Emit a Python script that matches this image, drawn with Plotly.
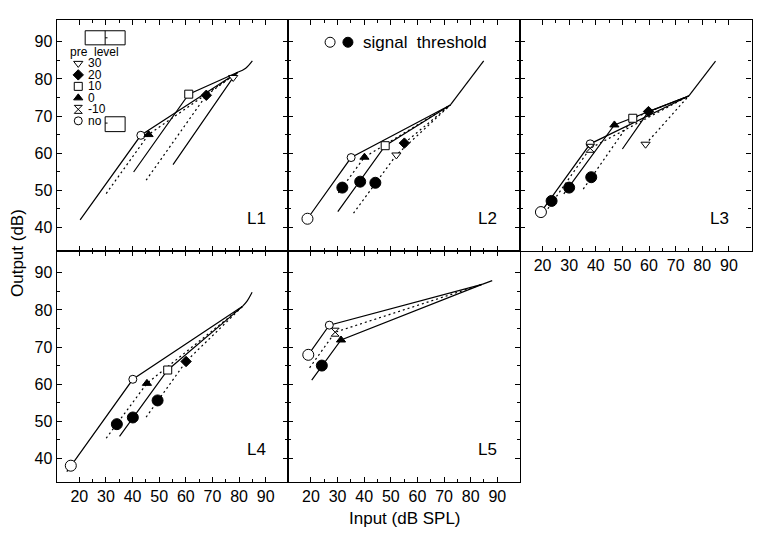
import plotly.graph_objects as go

# ---------------- data ----------------
x_ticks = [20, 30, 40, 50, 60, 70, 80, 90]
y_ticks = [40, 50, 60, 70, 80, 90]
x_minor = [25, 35, 45, 55, 65, 75, 85]
y_minor = [45, 55, 65, 75, 85]
pre_levels = ["30", "20", "10", "0", "-10", "no"]
panel_names = ["L1", "L2", "L3", "L4", "L5"]

# each precursor line: start of lower branch (x0,y0), knee (xk,yk), then to the common end
L1_level = ["no", "0", "10", "20", "30"]
L1_x0 = [20.3, 30.1, 40.4, 45.1, 55.2]
L1_y0 = [42.0, 49.1, 54.9, 52.7, 56.9]
L1_xk = [43.1, 46.0, 61.1, 67.7, 77.8]
L1_yk = [64.8, 65.0, 75.9, 75.6, 80.4]
L1_end_x = [79.5, 82.5, 85.0]
L1_end_y = [81.8, 82.9, 84.85]
L1_thr_x = []
L1_thr_y = []

L2_level = ["no", "0", "10", "30", "20"]
L2_x0 = [18.7, 30.3, 30.1, 36.0, None]
L2_y0 = [42.3, 49.3, 44.2, 43.8, None]
L2_xk = [35.1, 40.1, 47.9, 52.1, 55.1]
L2_yk = [58.8, 58.9, 62.0, 59.5, 62.7]
L2_end_x = [72.4, 84.9]
L2_end_y = [73.0, 84.9]
L2_thr_x = [18.7, 31.8, 38.5, 44.2]
L2_thr_y = [42.3, 50.7, 52.3, 52.0]

L3_level = ["no", "-10", "0", "10", "20", "30"]
L3_x0 = [19.4, 22.0, 28.0, 35.3, 50.0, None]
L3_y0 = [44.1, 45.0, 49.0, 50.3, 61.1, None]
L3_xk = [37.9, 37.9, 47.0, 53.9, 59.8, 58.7]
L3_yk = [62.5, 61.3, 67.6, 69.4, 71.2, 62.4]
L3_end_x = [74.9, 85.0]
L3_end_y = [75.4, 84.8]
L3_thr_x = [19.4, 23.4, 30.0, 38.3]
L3_thr_y = [44.1, 47.1, 50.7, 53.5]

L4_level = ["no", "0", "10", "20"]
L4_x0 = [15.3, 30.1, 35.1, 45.1]
L4_y0 = [36.4, 45.4, 45.9, 51.1]
L4_xk = [40.1, 45.4, 53.2, 60.1]
L4_yk = [61.3, 60.2, 63.8, 66.1]
L4_end_x = [81.2, 83.0, 84.9]
L4_end_y = [80.9, 82.4, 84.8]
L4_thr_x = [16.8, 34.1, 40.1, 49.4]
L4_thr_y = [38.0, 49.2, 51.0, 55.6]

L5_level = ["no", "-10", "0"]
L5_x0 = [19.0, 19.5, 20.3]
L5_y0 = [67.9, 64.4, 61.1]
L5_xk = [26.9, 29.1, 31.3]
L5_yk = [75.9, 74.0, 71.9]
L5_end_x = [84.3, 88.1]
L5_end_y = [86.9, 87.9]
L5_thr_x = [19.0, 24.1]
L5_thr_y = [67.9, 65.0]

# ---------------- styles ----------------
L1_dash = ["solid", "dot", "solid", "dot", "solid"]
L2_dash = ["solid", "dot", "solid", "dot", "dot"]
L3_dash = ["solid", "dot", "solid", "dot", "solid", "dot"]
L4_dash = ["solid", "dot", "solid", "dot"]
L5_dash = ["solid", "dot", "solid"]

sym = {"30": "triangle-down", "20": "diamond", "10": "square",
       "0": "triangle-up", "-10": "hourglass", "no": "circle"}
fill = {"30": "white", "20": "black", "10": "white",
        "0": "black", "-10": "white", "no": "white"}
DOT = "2px,3px"
FONT = "Arial"

panels = [
    (L1_level, L1_x0, L1_y0, L1_xk, L1_yk, L1_end_x, L1_end_y, L1_thr_x, L1_thr_y, L1_dash),
    (L2_level, L2_x0, L2_y0, L2_xk, L2_yk, L2_end_x, L2_end_y, L2_thr_x, L2_thr_y, L2_dash),
    (L3_level, L3_x0, L3_y0, L3_xk, L3_yk, L3_end_x, L3_end_y, L3_thr_x, L3_thr_y, L3_dash),
    (L4_level, L4_x0, L4_y0, L4_xk, L4_yk, L4_end_x, L4_end_y, L4_thr_x, L4_thr_y, L4_dash),
    (L5_level, L5_x0, L5_y0, L5_xk, L5_yk, L5_end_x, L5_end_y, L5_thr_x, L5_thr_y, L5_dash),
]

# page pixels -> paper coords (the html body adds an 8px margin)
OFF = 8
W, H = 764 - 2 * OFF, 537 - 2 * OFF
def px(v):
    return (v - OFF) / W
def py(v):
    return 1 - (v - OFF) / H

col_left = [56.7, 288.3, 519.9]
row_top = [20, 251]
pw, ph = 231.6, 231
pos = [(0, 0), (0, 1), (0, 2), (1, 0), (1, 1)]
XR = [11.5, 98.5]
YR = [33.6, 95.9]

fig = go.Figure()
layout = dict(width=W, height=H, margin=dict(l=0, r=0, t=0, b=0),
              plot_bgcolor="white", paper_bgcolor="white", showlegend=False,
              font=dict(family=FONT, color="black"))
annotations = []
shapes = []

for i, (lvl, x0, y0, xk, yk, ex, ey, tx, ty, dash) in enumerate(panels):
    r, c = pos[i]
    sfx = "" if i == 0 else str(i + 1)
    xa, ya = "x" + sfx, "y" + sfx
    for j in range(len(lvl)):
        xs = ([x0[j]] if x0[j] is not None else []) + [xk[j], ex[0]]
        ys = ([y0[j]] if y0[j] is not None else []) + [yk[j], ey[0]]
        fig.add_trace(go.Scatter(x=xs, y=ys, mode="lines", xaxis=xa, yaxis=ya,
                                 line=dict(color="black", width=1.2,
                                           dash=DOT if dash[j] == "dot" else "solid")))
    fig.add_trace(go.Scatter(x=ex, y=ey, mode="lines", xaxis=xa, yaxis=ya,
                             line=dict(color="black", width=1.2, shape="spline")))
    fig.add_trace(go.Scatter(x=xk, y=yk, mode="markers", xaxis=xa, yaxis=ya,
                             marker=dict(symbol=[sym[l] for l in lvl],
                                         color=[fill[l] for l in lvl], size=8, opacity=1,
                                         line=dict(color="black", width=1))))
    if tx:
        fig.add_trace(go.Scatter(x=tx, y=ty, mode="markers", xaxis=xa, yaxis=ya,
                                 marker=dict(symbol="circle", size=11, opacity=1,
                                             color=["white"] + ["black"] * (len(tx) - 1),
                                             line=dict(color="black", width=1))))

    xdom = [px(col_left[c]), px(col_left[c] + pw)]
    ydom = [py(row_top[r] + ph), py(row_top[r])]
    show_x = (r == 1) or (c == 2)
    show_y = (c == 0)
    common = dict(ticks="inside", ticklen=5, tickwidth=1, tickcolor="black",
                  showline=True, linecolor="black", linewidth=1.2, mirror="ticks",
                  showgrid=False, zeroline=False, tickfont=dict(size=16, family=FONT))
    layout["xaxis" + sfx] = dict(
        domain=xdom, range=XR, anchor=ya, tickmode="array", tickvals=x_ticks,
        showticklabels=show_x,
        minor=dict(tickmode="array", tickvals=x_minor, ticks="inside", ticklen=3,
                   tickcolor="black", showgrid=False), **common)
    layout["yaxis" + sfx] = dict(
        domain=ydom, range=YR, anchor=xa, tickmode="array", tickvals=y_ticks,
        showticklabels=show_y,
        minor=dict(tickmode="array", tickvals=y_minor, ticks="inside", ticklen=3,
                   tickcolor="black", showgrid=False), **common)
    annotations.append(dict(x=90.7, y=39.3, xref=xa, yref=ya, text=panel_names[i],
                            showarrow=False, xanchor="right", yanchor="bottom",
                            font=dict(size=17, family=FONT)))

# ---- pre-level key inside L1 ----
key_x, key_tx, key_top, key_step = 19.6, 22.6, 84.2, 3.1
key_y = [key_top - k * key_step for k in range(len(pre_levels))]
fig.add_trace(go.Scatter(x=[key_x] * len(pre_levels), y=key_y, mode="markers",
                         xaxis="x", yaxis="y",
                         marker=dict(symbol=[sym[l] for l in pre_levels],
                                     color=[fill[l] for l in pre_levels], size=8, opacity=1,
                                     line=dict(color="black", width=1))))
for l, yy in zip(pre_levels, key_y):
    annotations.append(dict(x=key_tx, y=yy, xref="x", yref="y", text=l, showarrow=False,
                            xanchor="left", yanchor="middle", font=dict(size=12, family=FONT)))
annotations.append(dict(x=15.9, y=87.3, xref="x", yref="y", text="pre  level", showarrow=False,
                        xanchor="left", yanchor="middle", font=dict(size=12, family=FONT)))
box = dict(color="black", width=1)
shapes += [
    dict(type="rect", xref="x", yref="y", x0=22.2, x1=37.2, y0=89.2, y1=93.0, line=box),
    dict(type="line", xref="x", yref="y", x0=29.7, x1=29.7, y0=89.2, y1=93.0, line=box),
    dict(type="line", xref="x", yref="y", x0=29.7, x1=30.6, y0=91.1, y1=91.1, line=box),
    dict(type="rect", xref="x", yref="y", x0=29.7, x1=37.2, y0=65.8, y1=69.8, line=box),
    dict(type="line", xref="x", yref="y", x0=29.7, x1=30.6, y0=68.1, y1=68.1, line=box),
]

# ---- signal threshold key inside L2 ----
fig.add_trace(go.Scatter(x=[27.2, 33.9], y=[89.9, 89.9], mode="markers", xaxis="x2", yaxis="y2",
                         marker=dict(symbol="circle", size=10, opacity=1, color=["white", "black"],
                                     line=dict(color="black", width=1))))
annotations.append(dict(x=38.8, y=89.9, xref="x2", yref="y2", text="signal  threshold",
                        showarrow=False, xanchor="left", yanchor="middle",
                        font=dict(size=17, family=FONT)))

# axis titles
annotations.append(dict(x=px(18), y=py(253), xref="paper", yref="paper", text="Output (dB)",
                        textangle=-90, showarrow=False, xanchor="center", yanchor="middle",
                        font=dict(size=17, family=FONT)))
annotations.append(dict(x=px(405), y=py(518), xref="paper", yref="paper",
                        text="Input (dB SPL)", showarrow=False, xanchor="center",
                        yanchor="middle", font=dict(size=17, family=FONT)))

layout["annotations"] = annotations
layout["shapes"] = shapes
fig.update_layout(**layout)
fig.write_html("out.html")
